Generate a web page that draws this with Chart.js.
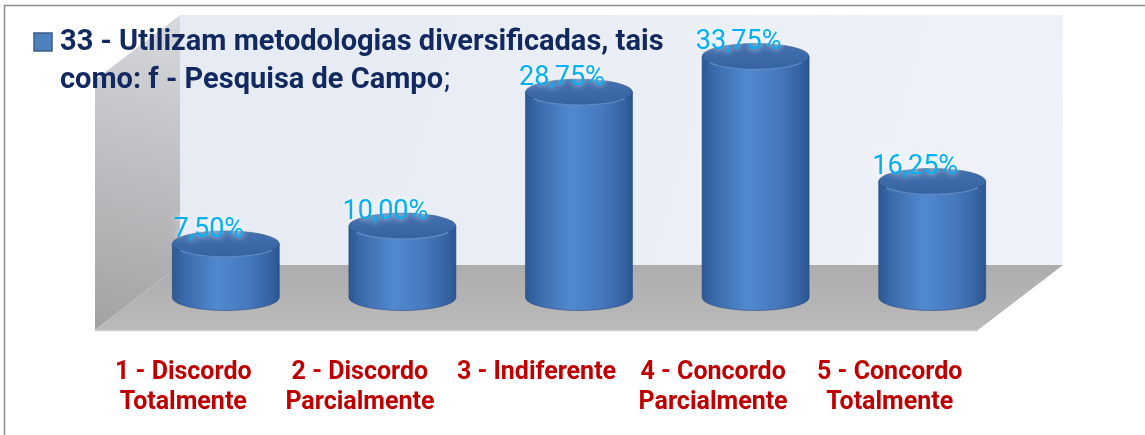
<!DOCTYPE html>
<html>
<head>
<meta charset="utf-8">
<script src="https://cdn.jsdelivr.net/npm/chart.js@4.4.1/dist/chart.umd.min.js"></script>
<style>
  html, body { margin: 0; padding: 0; background: #fff; }
  #wrap { width: 1145px; height: 435px; }
</style>
</head>
<body>
<div id="wrap"><canvas id="chart" width="1145" height="435"></canvas></div>
<script>
const categories = [
  ['1 - Discordo', 'Totalmente'],
  ['2 - Discordo', 'Parcialmente'],
  '3 - Indiferente',
  ['4 - Concordo', 'Parcialmente'],
  ['5 - Concordo', 'Totalmente'],
];
const percentages = [7.5, 10.0, 28.75, 33.75, 16.25];
const seriesTitle = ['33 - Utilizam metodologias diversificadas, tais', 'como: f - Pesquisa de Campo'];
const yMax = 35;

// oblique depth of the 3D box (back plane is up and to the right)
const DEPTH_X = 85;
const DEPTH_Y = 65;
const CAP_RY = 13;

const fmtPct = v => v.toFixed(2).replace('.', ',') + '%';

function drawCylinder(ctx, x, top, base, w) {
  const rx = w / 2, ry = CAP_RY;

  const side = ctx.createLinearGradient(x - rx, 0, x + rx, 0);
  side.addColorStop(0, '#2D5892');
  side.addColorStop(0.12, '#3B6BAC');
  side.addColorStop(0.42, '#5189CF');
  side.addColorStop(0.7, '#4679BE');
  side.addColorStop(0.92, '#3563A2');
  side.addColorStop(1, '#2B548D');

  ctx.beginPath();
  ctx.moveTo(x - rx, top);
  ctx.lineTo(x - rx, base);
  ctx.ellipse(x, base, rx, ry, 0, Math.PI, 0, true);
  ctx.lineTo(x + rx, top);
  ctx.closePath();
  ctx.fillStyle = side;
  ctx.fill();
  ctx.strokeStyle = 'rgba(40, 72, 125, 0.55)';
  ctx.lineWidth = 1;
  ctx.stroke();

  const cap = ctx.createLinearGradient(0, top - ry, 0, top + ry);
  cap.addColorStop(0, '#4370AE');
  cap.addColorStop(1, '#3562A0');
  ctx.beginPath();
  ctx.ellipse(x, top, rx, ry, 0, 0, Math.PI * 2);
  ctx.fillStyle = cap;
  ctx.fill();
  ctx.stroke();

  // light rim on the front edge of the cap
  ctx.beginPath();
  ctx.ellipse(x, top + 1, rx - 2, ry - 1, 0, 0.15 * Math.PI, 0.85 * Math.PI);
  ctx.strokeStyle = 'rgba(115, 160, 218, 0.65)';
  ctx.lineWidth = 1.5;
  ctx.stroke();
}

const box3d = {
  id: 'box3d',
  beforeDatasetsDraw(chart) {
    const { ctx, chartArea: a } = chart;
    const hx = DEPTH_X / 2, hy = DEPTH_Y / 2;
    const backL = a.left + hx, backR = a.right + hx;
    const backT = a.top - hy, backB = a.bottom - hy;
    const frontL = a.left - hx, frontR = a.right - hx;
    const frontT = a.top + hy, frontB = a.bottom + hy;

    ctx.save();
    let g = ctx.createLinearGradient(backL, backT, backR, backB);
    g.addColorStop(0, '#E6EAF3');
    g.addColorStop(1, '#EFF2F8');
    ctx.fillStyle = g;
    ctx.fillRect(backL, backT, backR - backL, backB - backT);

    // left side wall
    ctx.beginPath();
    ctx.moveTo(frontL, frontT);
    ctx.lineTo(backL, backT);
    ctx.lineTo(backL, backB);
    ctx.lineTo(frontL, frontB);
    ctx.closePath();
    g = ctx.createLinearGradient(backL, backT, frontL, frontB);
    g.addColorStop(0, '#D8D9DD');
    g.addColorStop(1, '#A2A2A4');
    ctx.fillStyle = g;
    ctx.fill();

    // floor
    ctx.beginPath();
    ctx.moveTo(frontL, frontB);
    ctx.lineTo(backL, backB);
    ctx.lineTo(backR, backB);
    ctx.lineTo(frontR, frontB);
    ctx.closePath();
    g = ctx.createLinearGradient(0, backB, 0, frontB);
    g.addColorStop(0, '#ADADAE');
    g.addColorStop(1, '#BABABB');
    ctx.fillStyle = g;
    ctx.fill();

    ctx.beginPath();
    ctx.moveTo(frontL, frontB + 0.5);
    ctx.lineTo(frontR, frontB + 0.5);
    ctx.strokeStyle = '#D0D0D0';
    ctx.lineWidth = 1.5;
    ctx.stroke();
    ctx.restore();
  },
  afterDatasetsDraw(chart) {
    const { ctx } = chart;
    const meta = chart.getDatasetMeta(0);
    ctx.save();
    meta.data.forEach(bar => {
      drawCylinder(ctx, bar.x, bar.y, bar.base, bar.width);
    });

    ctx.font = '27px Roboto';
    ctx.textAlign = 'center';
    ctx.textBaseline = 'alphabetic';
    ctx.fillStyle = '#00B0F0';
    ctx.shadowColor = 'rgba(255, 255, 255, 0.95)';
    ctx.shadowBlur = 6;
    meta.data.forEach((bar, i) => {
      ctx.fillText(fmtPct(percentages[i]), bar.x - 17, bar.y - 7);
    });
    ctx.restore();
  },
  afterDraw(chart) {
    const { ctx } = chart;
    ctx.save();
    // series key
    ctx.fillStyle = '#4F81BD';
    ctx.fillRect(34, 33, 18, 18);
    ctx.strokeStyle = '#385D8A';
    ctx.lineWidth = 1.5;
    ctx.strokeRect(34, 33, 18, 18);

    ctx.fillStyle = '#11295E';
    ctx.textAlign = 'left';
    ctx.textBaseline = 'alphabetic';
    ctx.font = 'bold 29px Roboto';
    ctx.fillText(seriesTitle[0], 60, 50);
    ctx.fillText(seriesTitle[1], 60, 88);
    const w = ctx.measureText(seriesTitle[1]).width;
    ctx.font = '29px Roboto';
    ctx.fillText(';', 60 + w + 1, 88);

    // outer frame
    ctx.strokeStyle = '#8C8C8C';
    ctx.lineWidth = 1.5;
    ctx.beginPath();
    ctx.moveTo(1145, 5.5);
    ctx.lineTo(4.5, 5.5);
    ctx.lineTo(4.5, 435);
    ctx.stroke();
    ctx.restore();
  },
};

new Chart('chart', {
  type: 'bar',
  data: {
    labels: categories,
    datasets: [{
      label: seriesTitle.join(' '),
      data: percentages,
      backgroundColor: 'rgba(0,0,0,0)',
      borderWidth: 0,
      barPercentage: 0.606,
      categoryPercentage: 1,
    }],
  },
  options: {
    responsive: false,
    animation: false,
    events: [],
    layout: {
      padding: { left: 137.5, right: 124.5, top: 47.5, bottom: 0 },
    },
    plugins: {
      legend: { display: false },
      tooltip: { enabled: false },
    },
    scales: {
      x: {
        grid: { display: false },
        border: { display: false },
        afterFit: scale => { scale.height = 137.5; },
        ticks: {
          color: '#C00000',
          padding: 52.5,
          labelOffset: -DEPTH_X / 2,
          maxRotation: 0,
          autoSkip: false,
          font: { family: 'Roboto', size: 25, weight: 'bold', lineHeight: 1.2 },
        },
      },
      y: {
        display: false,
        min: 0,
        max: yMax,
      },
    },
  },
  plugins: [box3d],
});
</script>
</body>
</html>
